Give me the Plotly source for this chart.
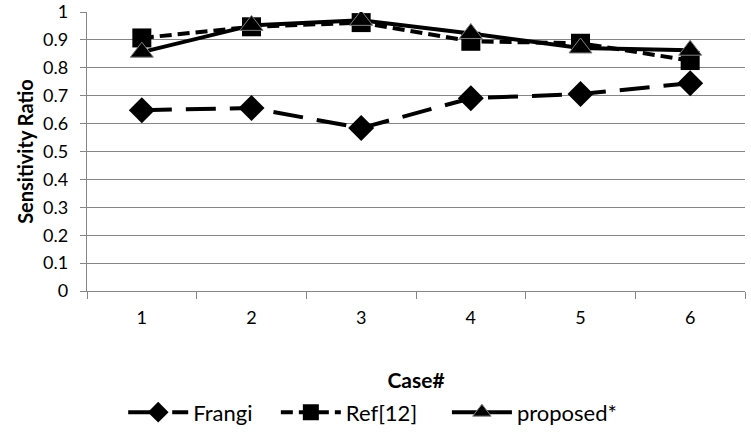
import plotly.graph_objects as go

cases = ["1", "2", "3", "4", "5", "6"]
frangi = [0.648, 0.656, 0.584, 0.691, 0.706, 0.745]
ref12 = [0.907, 0.947, 0.962, 0.895, 0.888, 0.826]
proposed = [0.856, 0.952, 0.970, 0.923, 0.871, 0.863]

FONT = "Lato"
GRID = "#868686"

fig = go.Figure()
fig.add_trace(go.Scatter(
    x=cases, y=frangi, name="Frangi", mode="lines+markers", legend="legend",
    line=dict(color="black", width=4, dash="30px,14px"),
    marker=dict(symbol="diamond", size=20, color="black"),
))
fig.add_trace(go.Scatter(
    x=cases, y=ref12, name="Ref[12]", mode="lines+markers", legend="legend2",
    line=dict(color="black", width=4, dash="12px,6px"),
    marker=dict(symbol="square", size=19, color="black"),
))
fig.add_trace(go.Scatter(
    x=cases, y=proposed, name="proposed*", mode="lines+markers", legend="legend3",
    line=dict(color="black", width=4),
    marker=dict(symbol="triangle-up", size=20, color="black",
                line=dict(color="#808080", width=1)),
))

leg = dict(orientation="h", xanchor="left", y=-0.435, yanchor="middle",
           font=dict(size=22), itemwidth=60, bgcolor="rgba(0,0,0,0)")

fig.update_layout(
    width=751, height=437,
    margin=dict(l=87, r=6, t=12, b=146, autoexpand=False),
    paper_bgcolor="white", plot_bgcolor="white",
    font=dict(family=FONT, color="black", size=18),
    showlegend=True,
    legend=dict(leg, x=0.055),
    legend2=dict(leg, x=0.287),
    legend3=dict(leg, x=0.547),
    xaxis=dict(
        type="category", range=[-0.5, 5.5], showgrid=False, showline=True,
        linecolor=GRID, linewidth=1.3,
        ticks="outside", tickson="boundaries", ticklen=7, tickcolor=GRID,
        tickfont=dict(size=18), ticklabelstandoff=10, automargin=False,
        title=dict(text="<b>Case#</b>", font=dict(size=21), standoff=46),
    ),
    yaxis=dict(
        range=[0, 1], dtick=0.1, showgrid=True, gridcolor=GRID, gridwidth=1.3,
        showline=True, linecolor=GRID, linewidth=1.3, zeroline=False,
        ticks="outside", ticklen=6, tickcolor=GRID, automargin=False,
        tickfont=dict(size=18), ticklabelstandoff=8,
        title=dict(text="<b>Sensitivity Ratio</b>", font=dict(size=20), standoff=4),
    ),
)

# page body has a default 8px margin; drop it so the figure sits at 0,0
fig.write_html("out.html", config={"displayModeBar": False},
               post_script="document.body.style.margin='0';document.body.style.overflow='hidden';")
